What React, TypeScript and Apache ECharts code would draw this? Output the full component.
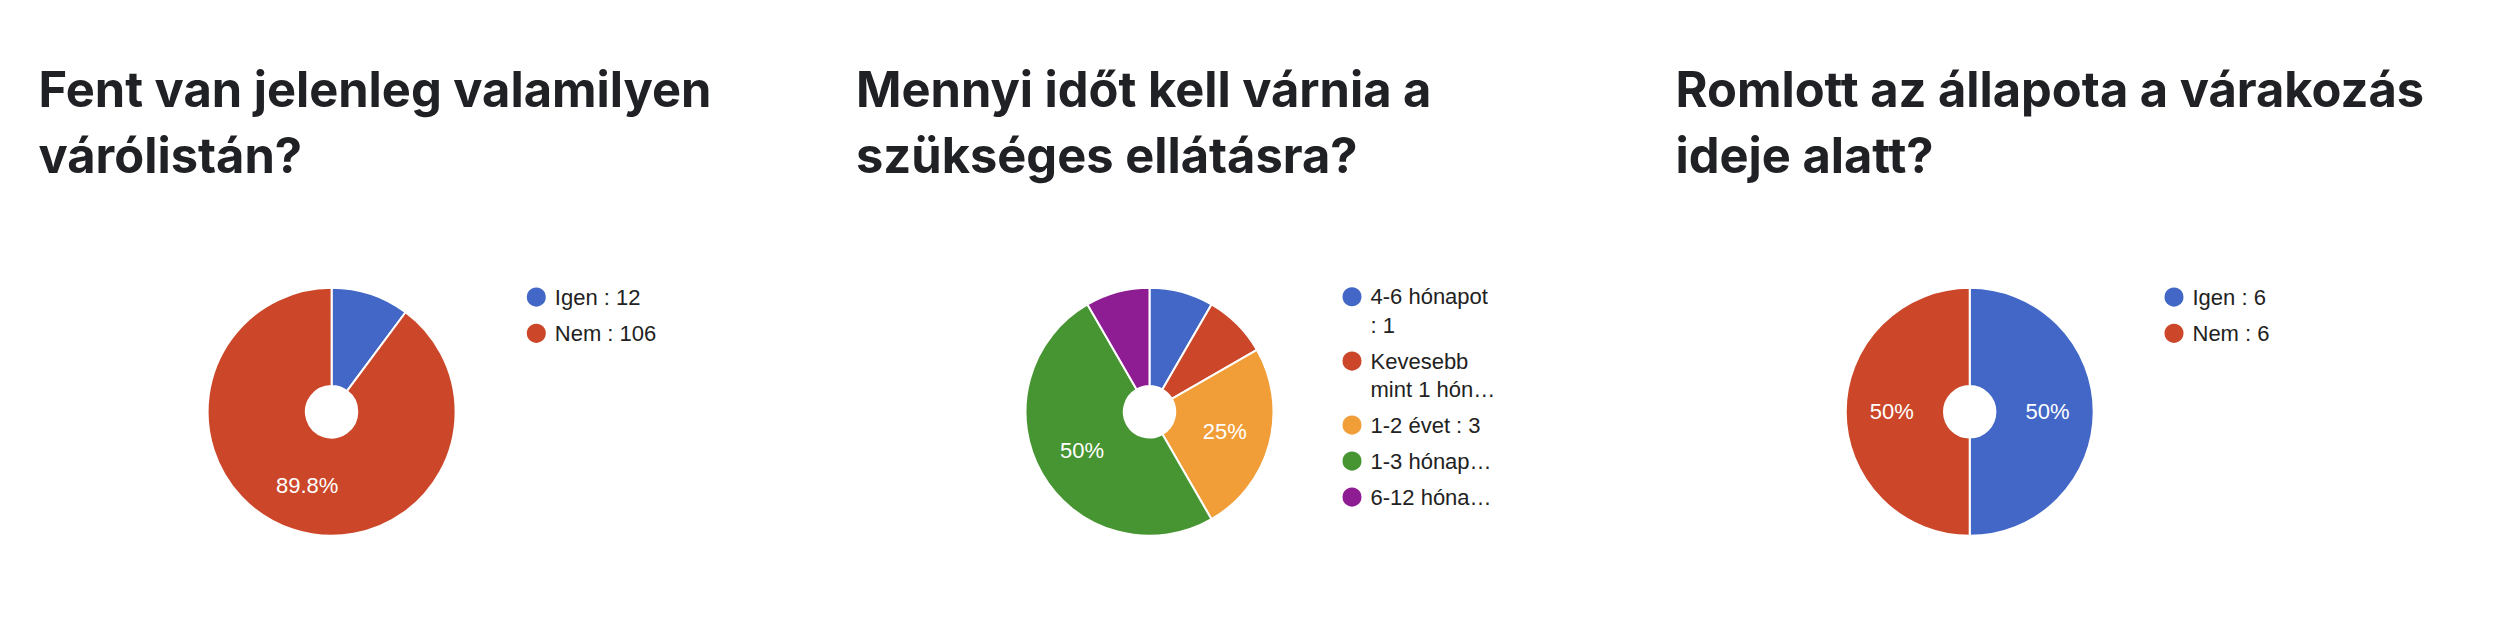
import React, { useEffect, useRef } from "react";
import * as echarts from "echarts";

// ---- Data ----
const titles = [
  "Fent van jelenleg valamilyen\nvárólistán?",
  "Mennyi időt kell várnia a\nszükséges ellátásra?",
  "Romlott az állapota a várakozás\nideje alatt?",
];

const listCategories = ["Igen", "Nem"];
const listValues = [12, 106];

const waitCategories = ["4-6 hónapot", "Kevesebb mint 1 hón…", "1-2 évet", "1-3 hónap…", "6-12 hóna…"];
const waitValues = [1, 1, 3, 6, 1];
const waitLegendTexts = ["4-6 hónapot\n: 1", "Kevesebb\nmint 1 hón…", "1-2 évet : 3", "1-3 hónap…", "6-12 hóna…"];

const worseCategories = ["Igen", "Nem"];
const worseValues = [6, 6];

const twoColors = ["#4267c6", "#cc4729"];
const fiveColors = ["#4267c6", "#cc4729", "#f29e38", "#469532", "#8e1c92"];

// ---- Layout / style ----
const W = 2502;
const H = 618;
const TITLE_FONT = "Inter, Roboto, sans-serif";
const BODY_FONT = "'Liberation Sans', Arial, sans-serif";
const centers = [
  [331.6, 411.8],
  [1149.5, 411.8],
  [1969.7, 411.8],
];
const titleLefts = [38.5, 856, 1675.5];
const radius = [25.7, 124];
const LH = 28.3;

function pctLabel(values: number[]) {
  const total = values.reduce((a, b) => a + b, 0);
  return (p: any) => {
    const pct = (p.value / total) * 100;
    if (pct < 15) return "";
    return `${Math.round(pct * 10) / 10}%`;
  };
}

function pieSeries(names: string[], values: number[], colors: string[], center: number[]) {
  return {
    type: "pie",
    center,
    radius,
    startAngle: 90,
    clockwise: true,
    avoidLabelOverlap: false,
    silent: true,
    data: names.map((n, i) => ({ name: n, value: values[i], itemStyle: { color: colors[i] } })),
    itemStyle: { borderColor: "#ffffff", borderWidth: 2 },
    label: {
      show: true,
      position: "inside",
      formatter: pctLabel(values),
      color: "#ffffff",
      fontSize: 22,
      fontFamily: BODY_FONT,
    },
    labelLine: { show: false },
    emphasis: { disabled: true },
  };
}

const legendBase = {
  orient: "vertical",
  icon: "circle",
  itemWidth: 21,
  itemHeight: 21,
  padding: 0,
  selectedMode: false,
  inactiveColor: "#ccc",
};

const legendText = {
  color: "#222222",
  fontSize: 22,
  fontFamily: BODY_FONT,
  lineHeight: LH,
  padding: [0, 0, 0, 3],
};

export default function App() {
  const ref = useRef<HTMLDivElement>(null);
  useEffect(() => {
    if (!ref.current) return;
    const chart = echarts.init(ref.current, undefined, { renderer: "svg", width: W, height: H });
    const lookup = (names: string[], vals: number[]) => (name: string) =>
      `${name} : ${vals[names.indexOf(name)]}`;
    // multi-line entries get a leading blank line so that their first line sits on the marker
    const waitLookup = (name: string) => {
      const t = waitLegendTexts[waitCategories.indexOf(name)];
      return t.includes("\n") ? "\n" + t : t;
    };
    chart.setOption({
      animation: false,
      backgroundColor: "#ffffff",
      title: titles.map((t, i) => ({
        text: t,
        left: titleLefts[i],
        top: 56.5,
        padding: 0,
        textStyle: {
          fontFamily: TITLE_FONT,
          fontSize: 48.8,
          fontWeight: 700,
          lineHeight: 66,
          color: "#202124",
        },
      })),
      legend: [
        {
          ...legendBase,
          left: 524.8,
          top: 282.9,
          itemGap: 8,
          data: listCategories,
          formatter: lookup(listCategories, listValues),
          textStyle: legendText,
        },
        {
          ...legendBase,
          left: 1340.5,
          top: 254.3,
          data: [waitCategories[0]],
          formatter: waitLookup,
          textStyle: legendText,
        },
        {
          ...legendBase,
          left: 1340.5,
          top: 318.6,
          data: [waitCategories[1]],
          formatter: waitLookup,
          textStyle: legendText,
        },
        {
          ...legendBase,
          left: 1340.5,
          top: 410.9,
          itemGap: 7.7,
          data: waitCategories.slice(2),
          formatter: waitLookup,
          textStyle: legendText,
        },
        {
          ...legendBase,
          left: 2162.5,
          top: 282.9,
          itemGap: 8,
          data: worseCategories,
          formatter: lookup(worseCategories, worseValues),
          textStyle: legendText,
        },
      ],
      series: [
        pieSeries(listCategories, listValues, twoColors, centers[0]),
        pieSeries(waitCategories, waitValues, fiveColors, centers[1]),
        pieSeries(worseCategories, worseValues, twoColors, centers[2]),
      ],
    });
    return () => chart.dispose();
  }, []);
  return (
    <div
      ref={ref}
      style={{ position: "absolute", left: 0, top: 0, width: W, height: H, background: "#fff" }}
    />
  );
}
